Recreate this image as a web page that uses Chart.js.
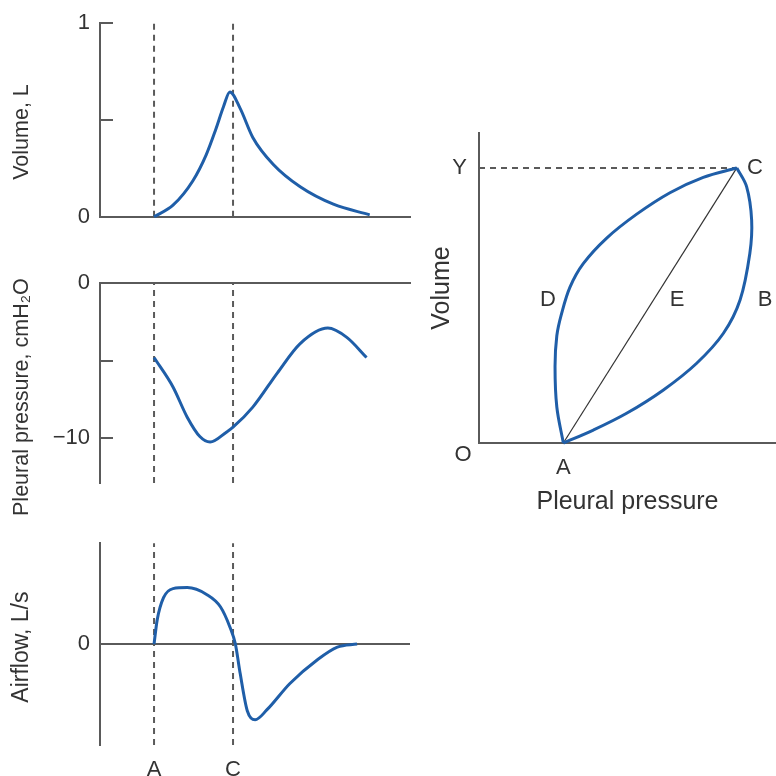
<!DOCTYPE html>
<html>
<head>
<meta charset="utf-8">
<script src="https://cdn.jsdelivr.net/npm/chart.js@4.4.1/dist/chart.umd.min.js"></script>
<style>
  html, body { margin: 0; padding: 0; background: #fff; }
  #wrap { position: relative; width: 776px; height: 776px; overflow: hidden; }
  canvas { position: absolute; }
</style>
</head>
<body>
<div id="wrap">
  <canvas id="volChart" width="420" height="240" style="left:0;top:0"></canvas>
  <canvas id="pressChart" width="420" height="260" style="left:0;top:260px"></canvas>
  <canvas id="flowChart" width="420" height="256" style="left:0;top:520px"></canvas>
  <canvas id="loopChart" width="356" height="420" style="left:420px;top:100px"></canvas>
</div>
<script>
// time axis: A = 0, C = 1 (end of inspiration)
const timeMarks = [0, 1];
const markLabels = ["A", "C"];

const volumeTime = [0, 0.24, 0.49, 0.66, 0.78, 0.88, 0.96, 1.09, 1.25, 1.51, 1.85, 2.27, 2.73];
const volumeL = [0, 0.06, 0.185, 0.32, 0.45, 0.57, 0.645, 0.56, 0.41, 0.27, 0.155, 0.065, 0.01];

const pressureTime = [0, 0.24, 0.42, 0.58, 0.71, 0.92, 1.0, 1.25, 1.56, 1.85, 2.2, 2.44, 2.69];
const pressureCm = [-4.8, -6.7, -8.65, -9.9, -10.25, -9.6, -9.3, -8.0, -5.8, -3.9, -2.9, -3.5, -4.8];

const flowTime = [0, 0.04, 0.12, 0.24, 0.42, 0.67, 0.84, 0.96, 1.03, 1.09, 1.18, 1.28, 1.43, 1.72, 2.06, 2.32, 2.57];
const flowLs = [0, 0.24, 0.46, 0.55, 0.56, 0.49, 0.37, 0.17, 0, -0.29, -0.66, -0.75, -0.65, -0.39, -0.16, -0.03, 0];

// pressure-volume loop (arbitrary units)
const inspP = [28.4, 38.5, 49.7, 62.1, 73.3, 82.3, 87.9, 91.2, 91.8, 90.1, 86.8];
const inspV = [0, 0.047, 0.108, 0.193, 0.29, 0.399, 0.52, 0.69, 0.81, 0.932, 1.0];
const expP = [86.8, 75.5, 64.3, 53.1, 43.0, 35.1, 30.6, 27.8, 26.2, 25.6, 26.2, 28.4];
const expV = [1.0, 0.966, 0.91, 0.832, 0.745, 0.652, 0.566, 0.47, 0.39, 0.278, 0.131, 0];
const loopLabels = ["O", "D", "E", "B", "C"];
const loopLabelP = [-5.4, 23.2, 66.7, 96.3, 92.9];
const loopLabelV = [-0.044, 0.52, 0.52, 0.52, 1.0];

const BLUE = "#1f5ea8";
const AXIS = "#5a5a5a";
const TEXT = "#333333";
const FAMILY = "'Liberation Sans', Arial, sans-serif";
const FONT = { family: FAMILY, size: 22 };
const LOOP_TITLE_FONT = { family: FAMILY, size: 25 };
const X_MIN = -0.684;
const X_MAX = 3.24;

const innerTicks = {
  id: "innerTicks",
  afterDatasetsDraw(chart, args, opts) {
    if (!opts.values) return;
    const y = chart.scales.y;
    const ctx = chart.ctx;
    ctx.save();
    ctx.strokeStyle = AXIS;
    ctx.lineWidth = 2;
    opts.values.forEach(v => {
      const py = Math.round(y.getPixelForValue(v));
      ctx.beginPath();
      ctx.moveTo(y.right, py);
      ctx.lineTo(y.right + 13, py);
      ctx.stroke();
    });
    ctx.restore();
  }
};

// rotated left title, centred on the plot area plus a small shift
const sideTitle = {
  id: "sideTitle",
  afterDraw(chart, args, opts) {
    if (!opts.text) return;
    const { ctx, chartArea } = chart;
    ctx.save();
    ctx.translate(opts.x, (chartArea.top + chartArea.bottom) / 2 + (opts.dy || 0));
    ctx.rotate(-Math.PI / 2);
    ctx.font = `${opts.size || 21.5}px ${FAMILY}`;
    ctx.fillStyle = TEXT;
    ctx.textAlign = "center";
    ctx.textBaseline = "middle";
    ctx.fillText(opts.text, 0, 0);
    ctx.restore();
  }
};

const textLabels = {
  id: "textLabels",
  afterDraw(chart, args, opts) {
    if (!opts.items) return;
    const { ctx, scales } = chart;
    ctx.save();
    ctx.font = `${FONT.size}px ${FONT.family}`;
    ctx.fillStyle = TEXT;
    ctx.textAlign = "center";
    ctx.textBaseline = "middle";
    opts.items.forEach(it => {
      ctx.fillText(it.text, scales.x.getPixelForValue(it.x), scales.y.getPixelForValue(it.y));
    });
    ctx.restore();
  }
};

function curve(xs, ys) {
  return {
    data: xs.map((x, i) => ({ x, y: ys[i] })),
    borderColor: BLUE,
    borderWidth: 3,
    pointRadius: 0,
    cubicInterpolationMode: "monotone",
    fill: false,
    clip: false
  };
}

function loopCurve(xs, ys) {
  return {
    data: xs.map((x, i) => ({ x, y: ys[i] })),
    borderColor: BLUE,
    borderWidth: 3,
    pointRadius: 0,
    showLine: true,
    tension: 0.35,
    clip: false
  };
}

function markLine(t, yLo, yHi) {
  return {
    data: [{ x: t, y: yLo }, { x: t, y: yHi }],
    borderColor: AXIS,
    borderWidth: 2,
    borderDash: [6, 5],
    pointRadius: 0,
    tension: 0,
    clip: false
  };
}

function baseOptions(padding) {
  return {
    responsive: false,
    animation: false,
    devicePixelRatio: 1,
    layout: { padding },
    plugins: { legend: { display: false }, tooltip: { enabled: false } }
  };
}

function hiddenX(position, height, showBorder) {
  return {
    type: "linear",
    min: X_MIN,
    max: X_MAX,
    position,
    grid: { display: false, drawTicks: false },
    border: { display: showBorder, color: AXIS, width: 2 },
    ticks: { display: false },
    afterFit: s => { s.height = height; }
  };
}

// Volume
const volOpts = baseOptions({ top: 20, right: 10, left: 0, bottom: 0 });
volOpts.plugins.innerTicks = { values: [0.5, 1] };
volOpts.plugins.sideTitle = { text: "Volume, L", x: 22, dy: 12 };
volOpts.scales = {
  x: hiddenX("bottom", 15, true),
  y: {
    min: 0,
    max: 1,
    grid: { display: false, drawTicks: false },
    border: { color: AXIS, width: 2 },
    afterBuildTicks: s => { s.ticks = [0, 0.5, 1].map(v => ({ value: v })); },
    ticks: { color: TEXT, font: FONT, padding: 10, callback: v => (v === 0.5 ? "" : String(v)) },
    afterFit: s => { s.width = 100; }
  }
};
new Chart(document.getElementById("volChart"), {
  type: "line",
  data: { datasets: [curve(volumeTime, volumeL), markLine(timeMarks[0], 0, 1), markLine(timeMarks[1], 0, 1)] },
  options: volOpts,
  plugins: [innerTicks, sideTitle]
});

// Pleural pressure
const pressOpts = baseOptions({ top: 0, right: 10, left: 0, bottom: 37 });
pressOpts.plugins.innerTicks = { values: [-5, -10] };
pressOpts.plugins.sideTitle = { text: "Pleural pressure, cmH\u2082O", x: 22, dy: 14 };
pressOpts.scales = {
  x: hiddenX("top", 23, true),
  y: {
    min: -12.9,
    max: 0,
    grid: { display: false, drawTicks: false },
    border: { color: AXIS, width: 2 },
    afterBuildTicks: s => { s.ticks = [0, -5, -10].map(v => ({ value: v })); },
    ticks: { color: TEXT, font: FONT, padding: 10, callback: v => (v === -5 ? "" : v < 0 ? "\u2212" + Math.abs(v) : String(v)) },
    afterFit: s => { s.width = 100; }
  }
};
new Chart(document.getElementById("pressChart"), {
  type: "line",
  data: { datasets: [curve(pressureTime, pressureCm), markLine(timeMarks[0], -12.9, 0), markLine(timeMarks[1], -12.9, 0)] },
  options: pressOpts,
  plugins: [innerTicks, sideTitle]
});

// Airflow
const flowOpts = baseOptions({ top: 23, right: 10, left: 0, bottom: 0 });
flowOpts.plugins.sideTitle = { text: "Airflow, L/s", x: 22, dy: 3, size: 23 };
flowOpts.scales = {
  x: {
    type: "linear",
    min: X_MIN,
    max: X_MAX,
    position: "bottom",
    grid: { display: false, drawTicks: false },
    border: { display: false },
    afterBuildTicks: s => { s.ticks = timeMarks.map(v => ({ value: v })); },
    ticks: { color: TEXT, font: FONT, padding: 12, maxRotation: 0, callback: (v, i) => markLabels[i] },
    afterFit: s => { s.height = 31; }
  },
  y: {
    min: -1,
    max: 1,
    grid: { drawTicks: false, color: ctx => (ctx.tick && ctx.tick.value === 0 ? AXIS : "rgba(0,0,0,0)"), lineWidth: 2 },
    border: { color: AXIS, width: 2 },
    afterBuildTicks: s => { s.ticks = [{ value: 0 }]; },
    ticks: { color: TEXT, font: FONT, padding: 10 },
    afterFit: s => { s.width = 100; }
  }
};
new Chart(document.getElementById("flowChart"), {
  type: "line",
  data: { datasets: [curve(flowTime, flowLs), markLine(timeMarks[0], -1, 1), markLine(timeMarks[1], -1, 1)] },
  options: flowOpts,
  plugins: [sideTitle]
});

// Pressure-volume loop
const loopOpts = baseOptions({ top: 33, right: 0, left: 0, bottom: 0 });
loopOpts.plugins.textLabels = {
  items: loopLabels.map((text, i) => ({ text, x: loopLabelP[i], y: loopLabelV[i] }))
};
loopOpts.scales = {
  x: {
    type: "linear",
    min: 0,
    max: 100,
    position: "bottom",
    grid: { display: false, drawTicks: false },
    border: { color: AXIS, width: 2 },
    afterBuildTicks: s => { s.ticks = [{ value: inspP[0] }]; },
    ticks: { color: TEXT, font: FONT, padding: 12, maxRotation: 0, callback: () => "A" },
    title: { display: true, text: "Pleural pressure", color: TEXT, font: LOOP_TITLE_FONT, padding: { top: 0, bottom: 3 } },
    afterFit: s => { s.height = 77; }
  },
  y: {
    type: "linear",
    min: 0,
    max: 1.127,
    grid: { display: false, drawTicks: false },
    border: { color: AXIS, width: 2 },
    afterBuildTicks: s => { s.ticks = [{ value: 1 }]; },
    ticks: { color: TEXT, font: FONT, padding: 12, callback: () => "Y" },
    title: { display: true, text: "Volume", color: TEXT, font: LOOP_TITLE_FONT, padding: { top: 7, bottom: 0 } },
    afterFit: s => { s.width = 59; }
  }
};
new Chart(document.getElementById("loopChart"), {
  type: "scatter",
  data: {
    datasets: [
      loopCurve(inspP, inspV),
      loopCurve(expP, expV),
      Object.assign(loopCurve([inspP[0], expP[0]], [inspV[0], expV[0]]), { borderColor: "#333333", borderWidth: 1.2, tension: 0 }),
      Object.assign(markLine(0, 1, 1), {
        data: [{ x: 0, y: expV[0] }, { x: expP[0], y: expV[0] }],
        showLine: true
      })
    ]
  },
  options: loopOpts,
  plugins: [textLabels]
});
</script>
</body>
</html>
